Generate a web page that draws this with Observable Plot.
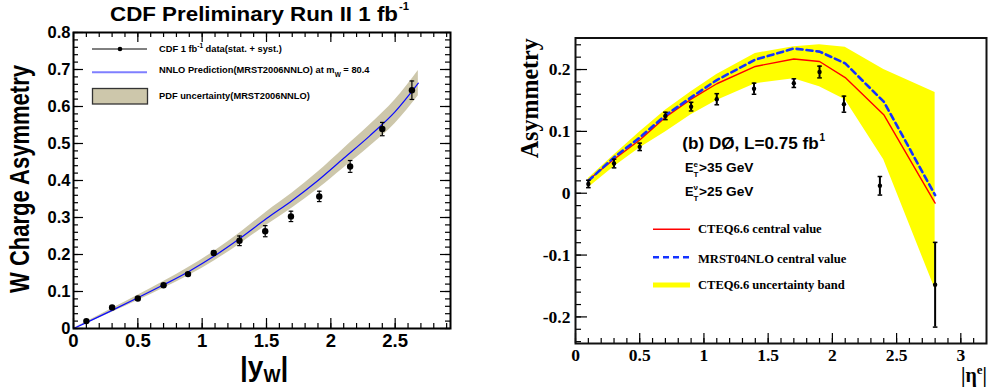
<!DOCTYPE html>
<html>
<head>
<meta charset="utf-8">
<script src="https://cdn.jsdelivr.net/npm/d3@7"></script>
<script src="https://cdn.jsdelivr.net/npm/@observablehq/plot@0.6"></script>
<style>
  body { margin: 0; background: #fff; }
  #wrap { position: relative; width: 988px; height: 390px; overflow: hidden; background: #fff; }
  #wrap > svg { position: absolute; top: 0; }
  .sans { font-family: "Liberation Sans", Arial, sans-serif; font-weight: bold; }
  .serif { font-family: "Liberation Serif", "Times New Roman", serif; font-weight: bold; }
</style>
</head>
<body>
<div id="wrap"></div>
<script>
// ---- Panel (a): CDF W charge asymmetry vs |y_W| ----
const cdfRapidity = [0.1, 0.3, 0.5, 0.7, 0.89, 1.09, 1.29, 1.49, 1.69, 1.91, 2.15, 2.40, 2.63];
const cdfAsymmetry = [0.020, 0.057, 0.081, 0.117, 0.147, 0.204, 0.237, 0.263, 0.303, 0.357, 0.438, 0.539, 0.644];
const cdfError = [0.003, 0.003, 0.003, 0.004, 0.004, 0.005, 0.013, 0.015, 0.014, 0.014, 0.016, 0.018, 0.025];

// NNLO prediction (MRST2006NNLO) and its PDF uncertainty band
const nnloRapidity = [0, 0.1, 0.3, 0.5, 0.7, 0.9, 1.1, 1.3, 1.5, 1.7, 1.9, 2.1, 2.3, 2.5, 2.68];
const nnloAsymmetry = [0, 0.016, 0.049, 0.083, 0.118, 0.155, 0.197, 0.245, 0.297, 0.346, 0.400, 0.460, 0.520, 0.586, 0.663];
const nnloLow = [0, 0.014, 0.044, 0.076, 0.109, 0.144, 0.184, 0.230, 0.279, 0.326, 0.377, 0.434, 0.491, 0.554, 0.629];
const nnloHigh = [0, 0.018, 0.054, 0.090, 0.127, 0.166, 0.210, 0.260, 0.315, 0.366, 0.423, 0.486, 0.549, 0.618, 0.697];

const aXTicks = [0, 0.5, 1, 1.5, 2, 2.5];
const aYTicks = [0, 0.1, 0.2, 0.3, 0.4, 0.5, 0.6, 0.7, 0.8];

// ---- Panel (b): D0 electron asymmetry vs |eta_e| ----
const d0Eta = [0.1, 0.3, 0.5, 0.7, 0.9, 1.1, 1.39, 1.7, 1.9, 2.09, 2.37, 2.8];
const d0Asymmetry = [0.015, 0.048, 0.075, 0.125, 0.140, 0.152, 0.169, 0.178, 0.196, 0.144, 0.012, -0.148];
const d0Error = [0.006, 0.007, 0.006, 0.006, 0.007, 0.009, 0.009, 0.007, 0.0095, 0.013, 0.015, 0.0685];

const theoryEta = [0.1, 0.3, 0.5, 0.7, 0.9, 1.1, 1.4, 1.7, 1.9, 2.1, 2.4, 2.8];
const cteqCentral = [0.0215, 0.055, 0.086, 0.123, 0.152, 0.177, 0.205, 0.217, 0.213, 0.187, 0.127, -0.016];
const mrstCentral = [0.020, 0.058, 0.090, 0.126, 0.155, 0.183, 0.216, 0.234, 0.229, 0.210, 0.148, -0.003];
const cteqHigh = [0.024, 0.062, 0.099, 0.134, 0.164, 0.192, 0.226, 0.237, 0.240, 0.236, 0.200, 0.163];
const cteqLow = [0.009, 0.043, 0.073, 0.099, 0.127, 0.150, 0.177, 0.185, 0.172, 0.151, 0.054, -0.155];

const bXTicks = [0, 0.5, 1, 1.5, 2, 2.5, 3];
const bYTicks = [-0.2, -0.1, 0, 0.1, 0.2];

// ---- tables built from the arrays ----
const cdfTable = cdfRapidity.map((x, i) => ({x, y: cdfAsymmetry[i], e: cdfError[i]}));
const nnloTable = nnloRapidity.map((x, i) => ({x, y: nnloAsymmetry[i], lo: nnloLow[i], hi: nnloHigh[i]}));
const d0Table = d0Eta.map((x, i) => ({x, y: d0Asymmetry[i], e: d0Error[i]}));
const theoryTable = theoryEta.map((x, i) => ({x, cteq: cteqCentral[i], mrst: mrstCentral[i], lo: cteqLow[i], hi: cteqHigh[i]}));

// horizontal end cap for error bars, sized in pixels
const capSymbol = {draw(ctx, size) { const w = Math.sqrt(size / Math.PI); ctx.moveTo(-w, 0); ctx.lineTo(w, 0); }};

// ROOT-style inward ticks on a given side of the frame
function innerTicks(values, side, len, innerW, innerH, sw = 1.2) {
  if (side === "bottom") return Plot.tickX(values, {x: d => d, insetTop: innerH - len, strokeWidth: sw});
  if (side === "top") return Plot.tickX(values, {x: d => d, insetBottom: innerH - len, strokeWidth: sw});
  if (side === "left") return Plot.tickY(values, {y: d => d, insetRight: innerW - len, strokeWidth: sw});
  return Plot.tickY(values, {y: d => d, insetLeft: innerW - len, strokeWidth: sw});
}

// ---------- left chart ----------
const A = {w: 494, h: 390, ml: 73, mr: 44, mt: 32, mb: 62};
const aIW = A.w - A.ml - A.mr, aIH = A.h - A.mt - A.mb;
const aXMinor = d3.range(0, 2.93, 0.1);
const aYMinor = d3.range(0, 0.81, 0.02);

const left = Plot.plot({
  width: A.w, height: A.h,
  marginLeft: A.ml, marginRight: A.mr, marginTop: A.mt, marginBottom: A.mb,
  x: {domain: [0, 2.93], label: null},
  y: {domain: [0, 0.8], label: null},
  style: {fontFamily: "Liberation Sans, Arial, sans-serif", background: "transparent", overflow: "visible"},
  marks: [
    Plot.areaY(nnloTable, {x: "x", y1: "lo", y2: "hi", fill: "#cdc7ab", curve: "monotone-x"}),
    Plot.line(nnloTable, {x: "x", y: "y", stroke: "#0a0aff", strokeWidth: 1.2, curve: "monotone-x"}),
    Plot.ruleX(cdfTable, {x: "x", y1: d => d.y - d.e, y2: d => d.y + d.e, stroke: "black", strokeWidth: 1.2}),
    Plot.dot(cdfTable, {x: "x", y: d => d.y - d.e, symbol: capSymbol, r: 2.3, fill: "none", stroke: "black", strokeWidth: 1.2}),
    Plot.dot(cdfTable, {x: "x", y: d => d.y + d.e, symbol: capSymbol, r: 2.3, fill: "none", stroke: "black", strokeWidth: 1.2}),
    Plot.dot(cdfTable, {x: "x", y: "y", r: 3.2, fill: "black", stroke: "none"}),
    innerTicks(aXMinor, "bottom", 5, aIW, aIH), innerTicks(aXTicks, "bottom", 10, aIW, aIH),
    innerTicks(aXMinor, "top", 5, aIW, aIH), innerTicks(aXTicks, "top", 10, aIW, aIH),
    innerTicks(aYMinor, "left", 5, aIW, aIH), innerTicks(aYTicks, "left", 10, aIW, aIH),
    innerTicks(aYMinor, "right", 5, aIW, aIH), innerTicks(aYTicks, "right", 10, aIW, aIH),
    Plot.axisX({ticks: aXTicks, tickSize: 0, tickPadding: 5, tickFormat: d => String(d), fontSize: 18.5, fontWeight: "bold", label: null}),
    Plot.axisY({ticks: aYTicks, tickSize: 0, tickPadding: 3, tickFormat: d => String(d), fontSize: 16.5, fontWeight: "bold", label: null}),
    Plot.frame({stroke: "black", strokeWidth: 2})
  ]
});
left.style.left = "0px";

// ---------- right chart ----------
const B = {w: 494, h: 390, ml: 81, mr: 2, mt: 37.5, mb: 47};
const bIW = B.w - B.ml - B.mr, bIH = B.h - B.mt - B.mb;
const bXMinor = d3.range(0, 3.2, 0.1);
const bYMinor = d3.range(-0.24, 0.251, 0.02);

const right = Plot.plot({
  width: B.w, height: B.h,
  marginLeft: B.ml, marginRight: B.mr, marginTop: B.mt, marginBottom: B.mb,
  x: {domain: [0, 3.2], label: null},
  y: {domain: [-0.243, 0.251], label: null},
  style: {fontFamily: "Liberation Serif, Times New Roman, serif", background: "transparent", overflow: "visible"},
  marks: [
    Plot.areaY(theoryTable, {x: "x", y1: "lo", y2: "hi", fill: "#ffff00"}),
    Plot.line(theoryTable, {x: "x", y: "cteq", stroke: "#ff0000", strokeWidth: 1.4}),
    Plot.line(theoryTable, {x: "x", y: "mrst", stroke: "#1432ff", strokeWidth: 2.6, strokeDasharray: "6,4"}),
    Plot.ruleX(d0Table, {x: "x", y1: d => d.y - d.e, y2: d => d.y + d.e, stroke: "black", strokeWidth: 2}),
    Plot.dot(d0Table, {x: "x", y: d => d.y - d.e, symbol: capSymbol, r: 2.3, fill: "none", stroke: "black", strokeWidth: 1.5}),
    Plot.dot(d0Table, {x: "x", y: d => d.y + d.e, symbol: capSymbol, r: 2.3, fill: "none", stroke: "black", strokeWidth: 1.5}),
    Plot.dot(d0Table, {x: "x", y: "y", r: 2.2, fill: "black", stroke: "none"}),
    innerTicks(bXMinor, "bottom", 5, bIW, bIH), innerTicks(bXTicks, "bottom", 10, bIW, bIH),
    innerTicks(bYMinor, "left", 6, bIW, bIH), innerTicks(bYTicks, "left", 12, bIW, bIH),
    Plot.axisX({ticks: bXTicks, tickSize: 0, tickPadding: 5, tickFormat: d => String(d), fontSize: 17.5, fontWeight: "bold", label: null}),
    Plot.axisY({ticks: bYTicks, tickSize: 0, tickPadding: 5, tickFormat: d => String(d), fontSize: 17.5, fontWeight: "bold", label: null}),
    Plot.frame({stroke: "#111", strokeWidth: 2})
  ]
});
right.style.left = "494px";

const wrap = document.getElementById("wrap");
wrap.appendChild(left);
wrap.appendChild(right);

// ---------- titles, axis labels, legends and annotations ----------
const NS = "http://www.w3.org/2000/svg";
const over = document.createElementNS(NS, "svg");
over.setAttribute("width", 988);
over.setAttribute("height", 390);
over.style.left = "0px";
over.innerHTML = `
  <g class="sans" fill="black">
    <text x="110" y="20.7" font-size="19.5" textLength="288" lengthAdjust="spacingAndGlyphs">CDF Preliminary Run II 1 fb</text>
    <text x="399" y="10" font-size="11" textLength="10" lengthAdjust="spacingAndGlyphs">-1</text>
    <text transform="translate(29,179) rotate(-90)" text-anchor="middle" font-size="27" textLength="228" lengthAdjust="spacingAndGlyphs">W Charge Asymmetry</text>
    <text x="240" y="376" font-size="28">|y<tspan font-size="18" dy="6">W</tspan><tspan dy="-6">|</tspan></text>

    <line x1="92" x2="147" y1="49" y2="49" stroke="black" stroke-width="1"/>
    <circle cx="120" cy="49" r="2.3" fill="black"/>
    <line x1="92" x2="147" y1="72.3" y2="72.3" stroke="#7f7fff" stroke-width="2"/>
    <rect x="92.5" y="88.5" width="55" height="15.5" fill="#cdc7ab" stroke="#333" stroke-width="1.3"/>

    <text x="159" y="51.7" font-size="9.3">CDF 1 fb<tspan font-size="6.5" dy="-4">-1</tspan><tspan dy="4"> data(stat. + syst.)</tspan></text>
    <text x="159" y="73.3" font-size="9.3">NNLO Prediction(MRST2006NNLO) at m<tspan font-size="6.5" dy="3.5">W</tspan><tspan dy="-3.5"> = 80.4</tspan></text>
    <text x="159" y="99" font-size="9.3">PDF uncertainty(MRST2006NNLO)</text>

    <text x="682.3" y="149" font-size="16.3" textLength="136.5" lengthAdjust="spacingAndGlyphs">(b) DØ, L=0.75 fb</text>
    <text x="819.5" y="141" font-size="10">1</text>

    <text x="685" y="172.3" font-size="12.8">E</text>
    <text x="693.5" y="166.5" font-size="8">e</text>
    <text x="693.5" y="176.8" font-size="8">T</text>
    <text x="699" y="172.3" font-size="12.8" textLength="54.5" lengthAdjust="spacingAndGlyphs">&gt;35 GeV</text>

    <text x="685" y="196" font-size="12.8">E</text>
    <text x="693.5" y="190.2" font-size="8">ν</text>
    <text x="693.5" y="200.5" font-size="8">T</text>
    <text x="699" y="196" font-size="12.8" textLength="54.5" lengthAdjust="spacingAndGlyphs">&gt;25 GeV</text>
  </g>
  <g class="serif" fill="black">
    <text transform="translate(538,98.3) rotate(-90)" text-anchor="middle" font-size="25" textLength="120" lengthAdjust="spacingAndGlyphs">Asymmetry</text>
    <text x="961" y="382" font-size="20">|η<tspan font-size="13" dy="-8">e</tspan><tspan dy="8">|</tspan></text>

    <line x1="653" x2="690" y1="229.3" y2="229.3" stroke="#ff0000" stroke-width="1.4"/>
    <line x1="653" x2="690" y1="257.3" y2="257.3" stroke="#1432ff" stroke-width="2.6" stroke-dasharray="6,4"/>
    <line x1="653" x2="690" y1="285" y2="285" stroke="#ffff00" stroke-width="5"/>
    <text x="698" y="233.3" font-size="12.5" textLength="123.7" lengthAdjust="spacingAndGlyphs">CTEQ6.6 central value</text>
    <text x="698" y="263.3" font-size="12.5" textLength="148.3" lengthAdjust="spacingAndGlyphs">MRST04NLO central value</text>
    <text x="698" y="289.3" font-size="12.5" textLength="146.7" lengthAdjust="spacingAndGlyphs">CTEQ6.6 uncertainty band</text>
  </g>`;
wrap.appendChild(over);
</script>
</body>
</html>
